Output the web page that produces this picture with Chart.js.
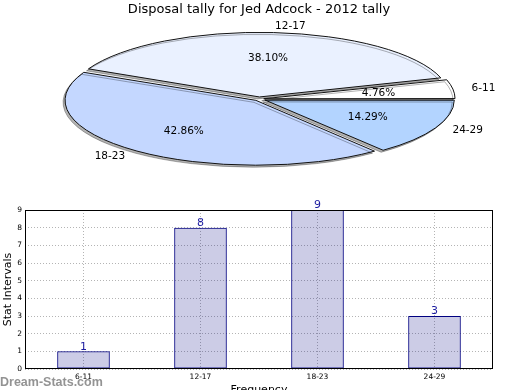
<!DOCTYPE html>
<html>
<head>
<meta charset="utf-8">
<script src="https://cdn.jsdelivr.net/npm/chart.js@4.4.1/dist/chart.umd.min.js"></script>
<style>
  html, body { margin: 0; padding: 0; background: #fff; overflow: hidden; }
  #wrap { position: relative; width: 520px; height: 390px; }
  #pie { position: absolute; left: 0; top: 0; }
  #bars { position: absolute; left: 0; top: 200px; }
  #mark { position: absolute; left: 0; top: 376px; font: bold 12.5px "Liberation Sans", sans-serif;
          line-height: 12.5px; color: rgba(120,120,120,0.8); white-space: nowrap; }
</style>
</head>
<body>
<div id="wrap">
  <canvas id="pie" width="520" height="200"></canvas>
  <canvas id="bars" width="520" height="200"></canvas>
  <div id="mark">Dream-Stats.com</div>
</div>
<script>
// data
const chartTitle = 'Disposal tally for Jed Adcock - 2012 tally';
const categories = ['6-11', '12-17', '18-23', '24-29'];
const counts = [1, 8, 9, 3];
const yTicks = [0, 1, 2, 3, 4, 5, 6, 7, 8, 9];

// styling
const pieColors = ['#ffffff', '#eaf1ff', '#c4d7ff', '#b3d4ff'];
const PIE_SQUASH = 0.34;
const PIE_RADIUS = 188;

Chart.defaults.font.family = '"DejaVu Sans", sans-serif';
Chart.defaults.color = '#000';

// pie goes counter-clockwise from 3 o'clock like the original, so feed it reversed
const pieLabels = categories.slice().reverse();
const pieData = counts.slice().reverse();
const pieFill = pieColors.slice().reverse();

const squashPie = {
    id: 'squashPie',
    beforeDatasetsDraw(chart) {
        const ctx = chart.ctx;
        const first = chart.getDatasetMeta(0).data[0];
        const base = ctx.getTransform();
        ctx.save();
        ctx.translate(first.x, first.y);
        ctx.scale(1, PIE_SQUASH);
        ctx.translate(-first.x, -first.y);
        ctx.shadowColor = 'rgba(0,0,0,0.3)';
        ctx.shadowOffsetX = -2;
        ctx.shadowOffsetY = 2;
        // keep outline width even after the squash
        const stroke = ctx.stroke;
        ctx.stroke = function () {
            this.save();
            this.setTransform(base);
            stroke.call(this);
            this.restore();
        };
    },
    afterDatasetsDraw(chart) {
        const ctx = chart.ctx;
        delete ctx.stroke;
        ctx.restore();
        const data = chart.data.datasets[0].data;
        const total = data.reduce((a, b) => a + b, 0);
        ctx.save();
        ctx.font = '10.5px "DejaVu Sans"';
        ctx.fillStyle = '#000';
        ctx.textBaseline = 'middle';
        chart.getDatasetMeta(0).data.forEach((el, i) => {
            const p = el.getProps(['x', 'y', 'startAngle', 'endAngle', 'outerRadius', 'circumference'], true);
            const mid = (p.startAngle + p.endAngle) / 2;
            const off = (el.options.offset || 0) / 4;
            const fix = 1 - Math.sin(Math.min(Math.PI, p.circumference || 0));
            const t = off * (1 + fix);
            const cx = p.x + Math.cos(mid) * t;
            const cy = p.y + Math.sin(mid) * t * PIE_SQUASH;
            const r = p.outerRadius;
            ctx.textAlign = Math.cos(mid) > 0 ? 'left' : 'right';
            ctx.fillText(chart.data.labels[i], cx + Math.cos(mid) * r * 1.1, cy + Math.sin(mid) * r * 1.1 * PIE_SQUASH);
            ctx.textAlign = 'center';
            const pct = (data[i] / total * 100).toFixed(2) + '%';
            ctx.fillText(pct, cx + Math.cos(mid) * r * 0.6, cy + Math.sin(mid) * r * 0.6 * PIE_SQUASH);
        });
        ctx.restore();
    }
};

new Chart(document.getElementById('pie'), {
    type: 'pie',
    data: {
        labels: pieLabels,
        datasets: [{
            data: pieData,
            backgroundColor: pieFill,
            borderColor: '#111',
            borderWidth: 1,
            offset: [26, 20, 24, 19],
            clip: false
        }]
    },
    options: {
        responsive: false,
        animation: false,
        devicePixelRatio: 1,
        rotation: 90,
        radius: PIE_RADIUS,
        layout: { padding: { left: 0, right: 2, top: 0, bottom: 19.6 } },
        plugins: {
            legend: { display: false },
            tooltip: { enabled: false },
            title: {
                display: true,
                text: chartTitle,
                font: { size: 13, weight: 'normal' },
                padding: { top: 2, bottom: 0 }
            }
        }
    },
    plugins: [squashPie]
});

const frameAndValues = {
    id: 'frameAndValues',
    afterDatasetsDraw(chart) {
        const ctx = chart.ctx;
        const a = chart.chartArea;
        ctx.save();
        ctx.strokeStyle = '#000';
        ctx.lineWidth = 1;
        ctx.strokeRect(Math.round(a.left) + 0.5, Math.round(a.top) + 0.5,
            Math.round(a.right - a.left) - 1, Math.round(a.bottom - a.top) - 1);
        ctx.font = '11px "DejaVu Sans"';
        ctx.fillStyle = '#1c1ca0';
        ctx.textAlign = 'center';
        ctx.textBaseline = 'bottom';
        chart.getDatasetMeta(0).data.forEach((bar, i) => {
            ctx.fillText(String(chart.data.datasets[0].data[i]), bar.x, bar.y + 1);
        });
        ctx.restore();
    }
};

const gridStyle = {
    color: '#b4b4b4',
    lineWidth: 1,
    drawTicks: false,
    offset: false
};

new Chart(document.getElementById('bars'), {
    type: 'bar',
    data: {
        labels: categories,
        datasets: [{
            data: counts,
            backgroundColor: 'rgba(0,0,128,0.2)',
            borderColor: '#000080',
            borderWidth: 1,
            borderSkipped: false,
            barPercentage: 0.45,
            categoryPercentage: 1
        }]
    },
    options: {
        responsive: false,
        animation: false,
        devicePixelRatio: 1,
        layout: { padding: { left: 0, right: 27, top: 10, bottom: 0 } },
        plugins: {
            legend: { display: false },
            tooltip: { enabled: false }
        },
        scales: {
            x: {
                grid: gridStyle,
                border: { display: false, dash: [1, 2] },
                ticks: { font: { size: 7.5 }, padding: 4 },
                title: { display: true, text: 'Frequency', font: { size: 11 }, padding: { top: 0, bottom: 3 } },
                afterFit(scale) { scale.height = 31; }
            },
            y: {
                min: yTicks[0],
                max: yTicks[yTicks.length - 1],
                grid: gridStyle,
                border: { display: false, dash: [1, 2] },
                ticks: { stepSize: 1, font: { size: 7.5 }, padding: 3 },
                title: { display: true, text: 'Stat Intervals', font: { size: 11 }, padding: { top: 2, bottom: 0 } },
                afterFit(scale) { scale.width = 25; }
            }
        }
    },
    plugins: [frameAndValues]
});
</script>
</body>
</html>
